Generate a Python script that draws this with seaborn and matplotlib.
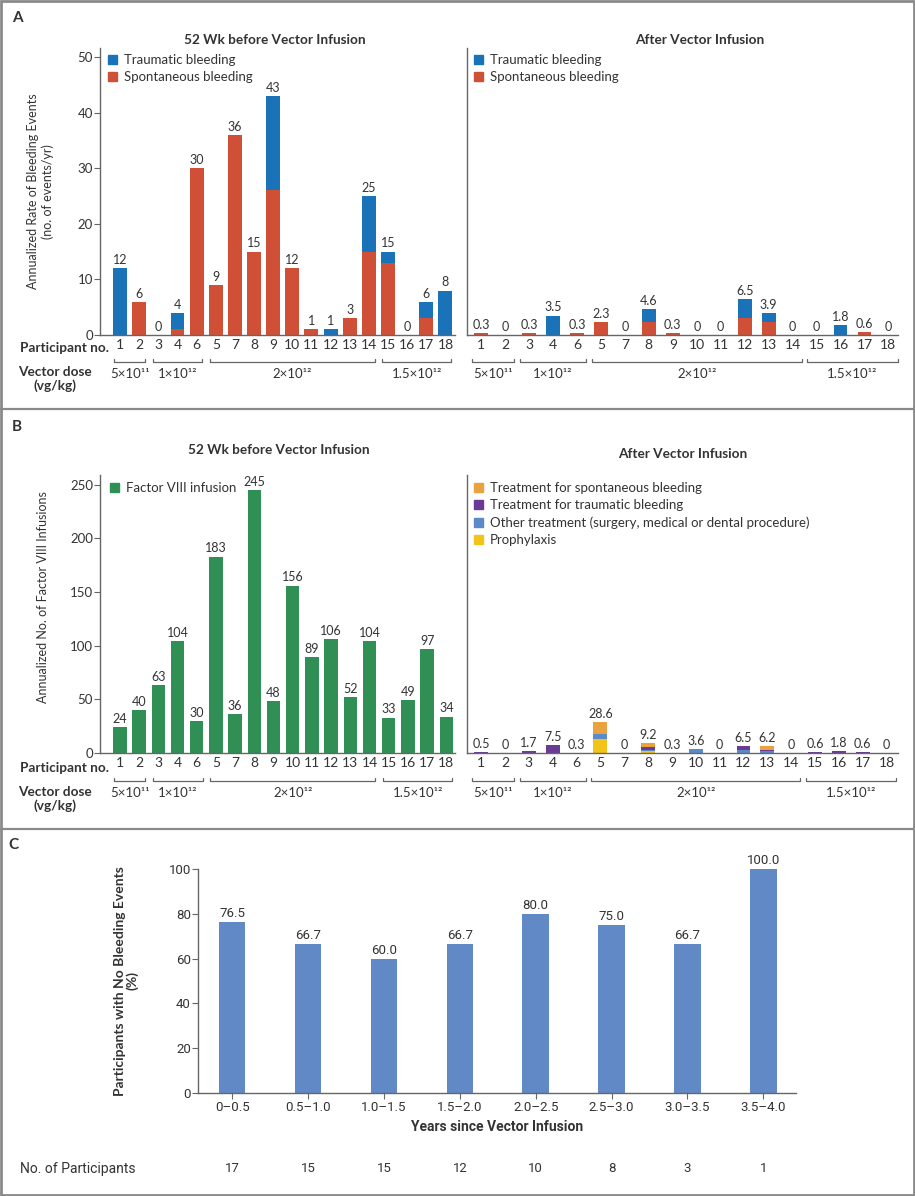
import numpy as np
import seaborn as sns
import matplotlib.pyplot as plt
from matplotlib.patches import Patch, Rectangle
from matplotlib.lines import Line2D

# ---- data ----
participants = ["1", "2", "3", "4", "6", "5", "7", "8", "9", "10",
                "11", "12", "13", "14", "15", "16", "17", "18"]
dose_labels = ["5×10¹¹", "1×10¹²", "2×10¹²", "1.5×10¹²"]
dose_sizes = [2, 3, 9, 4]

# panel A: annualized bleeding rate
a_pre_traumatic = [12, 0, 0, 3, 0, 0, 0, 0, 17, 0, 0, 1, 0, 10, 2, 0, 3, 8]
a_pre_spont = [0, 6, 0, 1, 30, 9, 36, 15, 26, 12, 1, 0, 3, 15, 13, 0, 3, 0]
a_post_traumatic = [0, 0, 0, 3.5, 0, 0, 0, 2.3, 0, 0, 0, 3.4, 1.5, 0, 0, 1.8, 0, 0]
a_post_spont = [0.3, 0, 0.3, 0, 0.3, 2.3, 0, 2.3, 0.3, 0, 0, 3.1, 2.4, 0, 0, 0, 0.6, 0]

# panel B: annualized factor VIII infusions
b_pre_fviii = [24, 40, 63, 104, 30, 183, 36, 245, 48, 156, 89, 106, 52, 104, 33, 49, 97, 34]
b_post_proph = [0, 0, 0, 0, 0, 13.5, 0, 1.5, 0, 0, 0, 0, 0, 0, 0, 0, 0, 0]
b_post_other = [0, 0, 0, 0, 0, 4.5, 0, 1.0, 0, 3.6, 0, 3.0, 1.5, 0, 0, 0, 0, 0]
b_post_traum = [0.5, 0, 1.7, 7.5, 0.3, 0, 0, 3.5, 0.3, 0, 0, 3.5, 1.5, 0, 0.6, 1.8, 0.6, 0]
b_post_spont = [0, 0, 0, 0, 0, 10.6, 0, 3.2, 0, 0, 0, 0, 3.2, 0, 0, 0, 0, 0]

# panel C: participants with no bleeding events
c_years = ["0–0.5", "0.5–1.0", "1.0–1.5", "1.5–2.0", "2.0–2.5", "2.5–3.0", "3.0–3.5", "3.5–4.0"]
c_pct = [76.5, 66.7, 60.0, 66.7, 80.0, 75.0, 66.7, 100.0]
c_n = [17, 15, 15, 12, 10, 8, 3, 1]

# ---- style ----
sns.set_theme(style="white")
plt.rcParams['font.family'] = ['Lato', 'DejaVu Sans']
narrow = ['Liberation Sans Narrow', 'Roboto', 'DejaVu Sans']

txt = "#333333"
axc = "#666666"
blue_tr = "#1a72b8"
red_sp = "#cf4f37"
green = "#2f8f55"
orange = "#e9a23f"
purple = "#6a3a95"
other_blue = "#5b89c9"
yellow = "#f2c41a"
c_blue = "#6189c6"

W, H = 915, 1196
fig = plt.figure(figsize=(W / 100, H / 100), dpi=100)


def box(x0, y0, x1, y1):
    return [x0 / W, 1 - y1 / H, (x1 - x0) / W, (y1 - y0) / H]


def ftext(x, y, s, **kw):
    kw.setdefault('color', txt)
    fig.text(x / W, 1 - y / H, s, **kw)


def layered_bars(ax, layers, colors, width):
    # stacked bars: draw cumulative sums from the top layer down
    cum = np.cumsum(np.array(layers, dtype=float), axis=0)
    for i in range(len(layers) - 1, -1, -1):
        sns.barplot(x=participants, y=cum[i], order=participants, color=colors[i],
                    width=width, saturation=1, errorbar=None, linewidth=0, ax=ax)
    return cum[-1]


def value_labels(ax, totals, size=9):
    for i, t in enumerate(totals):
        ax.annotate(f"{round(float(t), 1):g}", (i, t), xytext=(0, 1.5),
                    textcoords='offset points', ha='center', va='bottom',
                    fontsize=size, color=txt)


def style_axes(ax, xlim, ylim, yticks=None):
    ax.set_xlim(*xlim)
    ax.set_ylim(*ylim)
    ax.set_xlabel("")
    ax.set_ylabel("")
    for s in ['top', 'right']:
        ax.spines[s].set_visible(False)
    for s in ['left', 'bottom']:
        ax.spines[s].set_color(axc)
        ax.spines[s].set_linewidth(1.0)
    ax.tick_params(axis='x', length=0, labelsize=10, pad=3, labelcolor=txt)
    if yticks is not None:
        ax.set_yticks(yticks)
        ax.tick_params(axis='y', left=True, length=4, width=0.8, direction='out',
                       labelsize=9.5, pad=1, color=axc, labelcolor=txt)
    else:
        ax.set_yticks([])


def brackets(ax, bx, y_line, y_text, lpad, rpad):
    tr = ax.get_xaxis_transform()
    h = bx[3] - bx[1]
    yl = (bx[3] - y_line) / h
    yt = (bx[3] - y_text) / h
    tick = 3 / h
    start = 0
    for label, n in zip(dose_labels, dose_sizes):
        x0 = start - lpad
        x1 = start + n - 1 + rpad
        ax.plot([x0, x0, x1, x1], [yl + tick, yl, yl, yl + tick], transform=tr,
                clip_on=False, color=axc, lw=0.9)
        ax.text((x0 + x1) / 2, yt, label, transform=tr, ha='center', va='center',
                fontsize=9.5, color=txt)
        start += n


def legend(ax, bx, handles, x_px, y_px):
    ax.legend(handles=handles, loc='upper left',
              bbox_to_anchor=((x_px - bx[0]) / (bx[2] - bx[0]), (bx[3] - y_px) / (bx[3] - bx[1])),
              frameon=False, handlelength=0.7, handleheight=0.7, handletextpad=0.5,
              labelspacing=0.4, fontsize=9.5, borderaxespad=0, borderpad=0,
              labelcolor=txt)


# ---- panel A ----
bxA1 = (100, 48, 455, 335)
bxA2 = (467, 48, 898, 335)
axA1 = fig.add_axes(box(*bxA1))
axA2 = fig.add_axes(box(*bxA2))

tot = layered_bars(axA1, [a_pre_spont, a_pre_traumatic], [red_sp, blue_tr], 0.73)
value_labels(axA1, tot)
style_axes(axA1, (-1.05, 17.5), (0, 51.6), yticks=[0, 10, 20, 30, 40, 50])
axA1.set_ylabel("Annualized Rate of Bleeding Events\n(no. of events/yr)", fontsize=9, color=txt)
axA1.yaxis.set_label_coords(-0.13, 0.5)

tot = layered_bars(axA2, [a_post_spont, a_post_traumatic], [red_sp, blue_tr], 0.58)
value_labels(axA2, tot)
style_axes(axA2, (-0.59, 17.4), (0, 51.6))

handlesA = [Patch(color=blue_tr, label="Traumatic bleeding"),
            Patch(color=red_sp, label="Spontaneous bleeding")]
legend(axA1, bxA1, handlesA, 108, 54)
legend(axA2, bxA2, handlesA, 474, 54)

brackets(axA1, bxA1, 362, 374, 0.3, 0.3)
brackets(axA2, bxA2, 362, 374, 0.38, 0.38)

ftext(275, 40, "52 Wk before Vector Infusion", ha='center', va='center', fontsize=9.8, weight='bold')
ftext(700, 40, "After Vector Infusion", ha='center', va='center', fontsize=9.8, weight='bold')
ftext(20, 348, "Participant no.", ha='left', va='center', fontsize=9.8, weight='bold')
ftext(55, 379, "Vector dose\n(vg/kg)", ha='center', va='center', fontsize=9.8, weight='bold',
      linespacing=1.05)
ftext(12, 18, "A", ha='left', va='center', fontsize=11, weight='bold')

# ---- panel B ----
bxB1 = (100, 475, 455, 753)
bxB2 = (467, 475, 898, 753)
axB1 = fig.add_axes(box(*bxB1))
axB2 = fig.add_axes(box(*bxB2))

tot = layered_bars(axB1, [b_pre_fviii], [green], 0.7)
value_labels(axB1, tot)
style_axes(axB1, (-1.04, 17.45), (0, 259), yticks=[0, 50, 100, 150, 200, 250])
axB1.set_ylabel("Annualized No. of Factor VIII Infusions", fontsize=9, color=txt)
axB1.yaxis.set_label_coords(-0.145, 0.56)

tot = layered_bars(axB2, [b_post_proph, b_post_other, b_post_traum, b_post_spont],
                   [yellow, other_blue, purple, orange], 0.58)
value_labels(axB2, tot)
style_axes(axB2, (-0.59, 17.48), (0, 259))

legend(axB1, bxB1, [Patch(color=green, label="Factor VIII infusion")], 110, 482)
legend(axB2, bxB2, [Patch(color=orange, label="Treatment for spontaneous bleeding"),
                    Patch(color=purple, label="Treatment for traumatic bleeding"),
                    Patch(color=other_blue, label="Other treatment (surgery, medical or dental procedure)"),
                    Patch(color=yellow, label="Prophylaxis")], 474, 482)

brackets(axB1, bxB1, 781, 793, 0.3, 0.3)
brackets(axB2, bxB2, 781, 793, 0.38, 0.38)

ftext(279, 450, "52 Wk before Vector Infusion", ha='center', va='center', fontsize=9.8, weight='bold')
ftext(683, 454, "After Vector Infusion", ha='center', va='center', fontsize=9.8, weight='bold')
ftext(20, 768, "Participant no.", ha='left', va='center', fontsize=9.8, weight='bold')
ftext(55, 799, "Vector dose\n(vg/kg)", ha='center', va='center', fontsize=9.8, weight='bold',
      linespacing=1.05)
ftext(12, 427, "B", ha='left', va='center', fontsize=11, weight='bold')

# ---- panel C ----
bxC = (198, 869, 796, 1093)
axC = fig.add_axes(box(*bxC))
sns.barplot(x=c_years, y=c_pct, order=c_years, color=c_blue, width=0.35,
            saturation=1, errorbar=None, linewidth=0, ax=axC)
style_axes(axC, (-0.45, 7.43), (0, 100), yticks=[0, 20, 40, 60, 80, 100])
axC.tick_params(axis='x', bottom=True, length=4, width=0.8, color=axc, pad=2)
for lab in axC.get_xticklabels() + axC.get_yticklabels():
    lab.set_fontfamily(narrow)
    lab.set_fontsize(9.5)
for i, v in enumerate(c_pct):
    axC.annotate(f"{v:.1f}", (i, v), xytext=(0, 1.5), textcoords='offset points',
                 ha='center', va='bottom', fontsize=9.5, color=txt, family=narrow)
axC.set_xlabel("Years since Vector Infusion", fontsize=10, color=txt, family=narrow,
               weight='bold', labelpad=4)
axC.set_ylabel("Participants with No Bleeding Events\n(%)", fontsize=10, color=txt,
               weight='bold', linespacing=1.0)
axC.yaxis.set_label_coords(-0.1, 0.5)
trC = axC.get_xaxis_transform()
for i, n in enumerate(c_n):
    axC.text(i, (1093 - 1169) / (1093 - 869), str(n), transform=trC, ha='center',
             va='center', fontsize=9.5, color=txt, family=narrow)
ftext(20, 1169, "No. of Participants", ha='left', va='center', fontsize=10, family=narrow)
ftext(8, 845, "C", ha='left', va='center', fontsize=11, weight='bold')

# ---- panel frames ----
frame = dict(transform=fig.transFigure, color="#8a8a8a", lw=1.6)
fig.add_artist(Rectangle((0.001, 0.001), 0.998, 0.998, fill=False, transform=fig.transFigure,
                         edgecolor="#8a8a8a", lw=2))
fig.add_artist(Line2D([0, 1], [1 - 409 / H] * 2, **frame))
fig.add_artist(Line2D([0, 1], [1 - 829 / H] * 2, **frame))

fig.savefig("out.png", dpi=100)
